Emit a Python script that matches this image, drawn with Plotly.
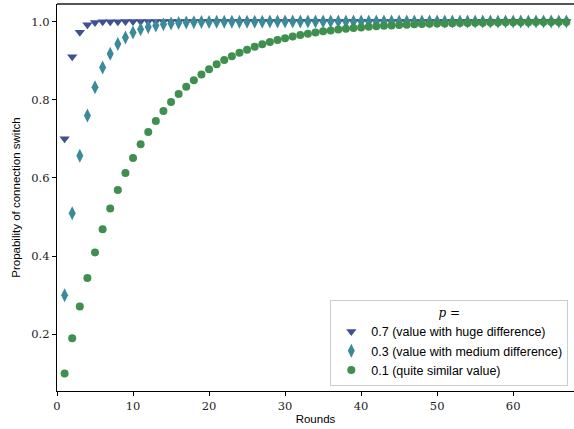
import plotly.graph_objects as go

rounds = list(range(1, 68))

p07 = [0.7, 0.91, 0.973, 0.9919, 0.9976, 0.9993, 0.9998, 0.9999] + [1.0] * 59

p03 = [0.3, 0.51, 0.657, 0.7599, 0.8319, 0.8824, 0.9176, 0.9424, 0.9596, 0.9718,
       0.9802, 0.9862, 0.9903, 0.9932, 0.9953, 0.9967, 0.9977, 0.9984, 0.9989, 0.9992,
       0.9994, 0.9996, 0.9997, 0.9998, 0.9999, 0.9999, 0.9999, 1.0, 1.0, 1.0] + [1.0] * 37

p01 = [0.1, 0.19, 0.271, 0.3439, 0.4095, 0.4686, 0.5217, 0.5695, 0.6126, 0.6513,
       0.6862, 0.7176, 0.7458, 0.7712, 0.7941, 0.8147, 0.8332, 0.8499, 0.8649, 0.8784,
       0.8906, 0.9015, 0.9114, 0.9202, 0.9282, 0.9354, 0.9419, 0.9477, 0.9529, 0.9576,
       0.9618, 0.9657, 0.9691, 0.9722, 0.9750, 0.9775, 0.9797, 0.9818, 0.9836, 0.9852,
       0.9867, 0.9880, 0.9892, 0.9903, 0.9913, 0.9921, 0.9929, 0.9936, 0.9943, 0.9948,
       0.9954, 0.9958, 0.9962, 0.9966, 0.9970, 0.9973, 0.9975, 0.9978, 0.9980, 0.9982,
       0.9984, 0.9986, 0.9987, 0.9988, 0.9989, 0.9990, 0.9991]

names = ["0.7 (value with huge difference)",
         "0.3 (value with medium difference)",
         "0.1 (quite similar value)"]

fig = go.Figure()
fig.add_trace(go.Scatter(x=rounds, y=p07, mode="markers", name=names[0],
                         marker=dict(symbol="triangle-down", size=9, color="#3f5195")))
fig.add_trace(go.Scatter(x=rounds, y=p03, mode="markers", name=names[1],
                         marker=dict(symbol="diamond-tall", size=10, color="#3b8a9a")))
fig.add_trace(go.Scatter(x=rounds, y=p01, mode="markers", name=names[2],
                         marker=dict(symbol="circle", size=8, color="#3f8f4f")))

serif = "DejaVu Serif"
sans = "Liberation Sans"

fig.update_layout(
    width=574, height=429,
    margin=dict(l=57, r=0, t=4, b=38, autoexpand=False),
    plot_bgcolor="white", paper_bgcolor="white",
    showlegend=True,
    legend=dict(
        x=0.989, y=0.012, xanchor="right", yanchor="bottom",
        bgcolor="rgba(255,255,255,0.85)", bordercolor="#cccccc", borderwidth=1,
        font=dict(family=sans, size=12.5, color="black"),
        title=dict(text="<i>p</i> =", side="top center",
                   font=dict(family=serif, size=12, color="black")),
        tracegroupgap=0,
    ),
    xaxis=dict(
        range=[0, 68], showgrid=False, zeroline=False, automargin=False,
        showline=True, linecolor="black", linewidth=1.2,
        ticks="outside", ticklen=4, tickcolor="black",
        tickvals=[0, 10, 20, 30, 40, 50, 60],
        tickfont=dict(family=serif, size=11.5, color="#222222"),
        title=dict(text="Rounds", font=dict(family=sans, size=11.5, color="black"), standoff=3),
    ),
    yaxis=dict(
        range=[0.055, 1.045], showgrid=False, zeroline=False, automargin=False,
        showline=True, linecolor="black", linewidth=1.2,
        ticks="outside", ticklen=4, tickcolor="black",
        tickvals=[0.2, 0.4, 0.6, 0.8, 1.0], ticktext=["0.2", "0.4", "0.6", "0.8", "1.0"],
        tickfont=dict(family=serif, size=11.5, color="#222222"),
        title=dict(text="Propability of connection switch",
                   font=dict(family=sans, size=11.5, color="black"), standoff=8),
    ),
)

# top spine
fig.add_shape(type="line", xref="paper", yref="paper", x0=0, x1=1, y0=1, y1=1,
              line=dict(color="#555555", width=2))

fig.write_html("out.html", config={"displayModeBar": False},
               post_script="document.body.style.margin='0';document.body.style.overflow='hidden';")
